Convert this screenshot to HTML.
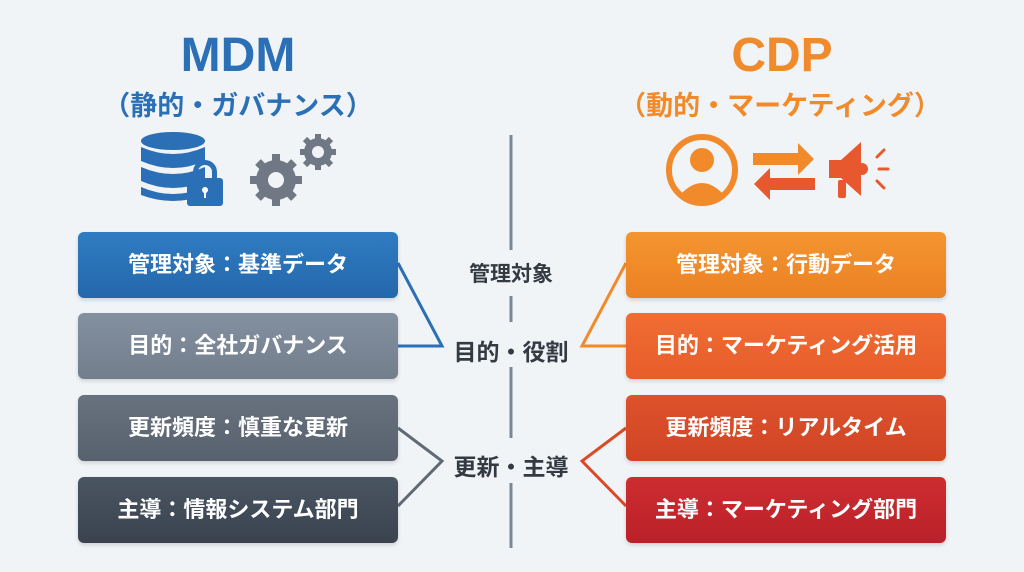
<!DOCTYPE html>
<html><head><meta charset="utf-8"><style>
body{margin:0;width:1024px;height:572px;background:#f1f4f7;font-family:"Liberation Sans","Noto Sans CJK JP",sans-serif;position:relative;overflow:hidden}
.t{position:absolute;text-align:center;font-weight:bold;white-space:nowrap}
.b{position:absolute;width:320px;height:66px;border-radius:6px;color:#fff;font-weight:bold;font-size:22px;line-height:66px;text-align:center;box-shadow:0 2px 4px rgba(0,0,0,.15)}
</style></head><body>
<div class="t" style="left:138px;top:28px;width:200px;font-size:48px;color:#2b70b6">MDM</div>
<div class="t" style="left:98px;top:84px;width:280px;font-size:27px;color:#2b70b6">（静的・ガバナンス）</div>
<div class="t" style="left:682px;top:28px;width:200px;font-size:48px;color:#f08a2a">CDP</div>
<div class="t" style="left:600px;top:84px;width:360px;font-size:27px;color:#f08a2a">（動的・マーケティング）</div>
<svg width="1024" height="572" style="position:absolute;left:0;top:0">
<g fill="#2b70b6">
<ellipse cx="173" cy="141" rx="32" ry="9"/>
<path d="M141 147q32 14 64 0v14q-32 14-64 0z"/>
<path d="M141 167q32 14 64 0v14q-32 14-64 0z"/>
<path d="M141 187q32 14 64 0v8q-32 12-64 0z"/>
<rect x="187" y="178" width="36" height="28" rx="3"/>
<path d="M193 180v-8a12 12 0 0 1 24 0v8h-5v-8a7 7 0 0 0-14 0v8z"/>
</g>
<circle cx="205" cy="190" r="3" fill="#fff"/><rect x="204" y="191" width="2" height="7" fill="#fff"/>
<g fill="#6f7884">
<circle cx="276" cy="180" r="20"/>
<g stroke="#6f7884" stroke-width="8"><line x1="276" y1="154" x2="276" y2="206"/><line x1="250" y1="180" x2="302" y2="180"/><line x1="258" y1="162" x2="294" y2="198"/><line x1="294" y1="162" x2="258" y2="198"/></g>
<circle cx="318" cy="152" r="14"/>
<g stroke="#6f7884" stroke-width="6"><line x1="318" y1="134" x2="318" y2="170"/><line x1="300" y1="152" x2="336" y2="152"/><line x1="305" y1="139" x2="331" y2="165"/><line x1="331" y1="139" x2="305" y2="165"/></g>
</g>
<circle cx="276" cy="180" r="8" fill="#f1f4f7"/><circle cx="318" cy="152" r="6" fill="#f1f4f7"/>
<circle cx="702" cy="170" r="33" fill="none" stroke="#f08a2a" stroke-width="6"/>
<circle cx="702" cy="160" r="12" fill="#f08a2a"/>
<path d="M680 195q22-24 44 0q-22 18-44 0z" fill="#f08a2a"/>
<path d="M753 153h45v-10l16 16-16 16v-10h-45z" fill="#f08a2a"/>
<path d="M815 178h-45v-10l-16 16 16 16v-10h45z" fill="#e8582e"/>
<g fill="#e8582e"><path d="M829 160h12l20-18v54l-20-18h-12z"/><rect x="838" y="180" width="8" height="18" rx="2"/><circle cx="862" cy="169" r="6"/></g>
<g stroke="#e8582e" stroke-width="3" stroke-linecap="round"><line x1="877" y1="157" x2="884" y2="150"/><line x1="879" y1="169" x2="888" y2="169"/><line x1="877" y1="181" x2="884" y2="188"/></g>
<g stroke="#7c8794" stroke-width="3"><line x1="511" y1="135" x2="511" y2="250"/><line x1="511" y1="296" x2="511" y2="322"/><line x1="511" y1="367" x2="511" y2="438"/><line x1="511" y1="483" x2="511" y2="548"/></g>
<g fill="none" stroke-width="3">
<polyline points="398,263 442,346 398,346" stroke="#2b70b6"/>
<polyline points="398,428 442,461 398,506" stroke="#5f6a76"/>
<polyline points="626,263 582,346 626,346" stroke="#f08a2a"/>
<polyline points="626,428 582,461 626,506" stroke="#d84a28"/>
</g>
</svg>
<div class="t" style="left:411px;top:258px;width:200px;font-size:21px;color:#333a42">管理対象</div>
<div class="t" style="left:411px;top:333px;width:200px;font-size:23px;color:#333a42">目的・役割</div>
<div class="t" style="left:411px;top:448px;width:200px;font-size:23px;color:#333a42">更新・主導</div>
<div class="b" style="left:78px;top:232px;background:linear-gradient(#2f7cc2,#2467ab)">管理対象：基準データ</div>
<div class="b" style="left:78px;top:313px;background:linear-gradient(#8390a0,#737e8c)">目的：全社ガバナンス</div>
<div class="b" style="left:78px;top:395px;background:linear-gradient(#67727e,#58626e)">更新頻度：慎重な更新</div>
<div class="b" style="left:78px;top:477px;background:linear-gradient(#4a5562,#3a434f)">主導：情報システム部門</div>
<div class="b" style="left:626px;top:232px;background:linear-gradient(#f39530,#ec8124)">管理対象：行動データ</div>
<div class="b" style="left:626px;top:313px;background:linear-gradient(#f06d33,#e75d2b)">目的：マーケティング活用</div>
<div class="b" style="left:626px;top:395px;background:linear-gradient(#dd522b,#d04426)">更新頻度：リアルタイム</div>
<div class="b" style="left:626px;top:477px;background:linear-gradient(#cc2d30,#bb2029)">主導：マーケティング部門</div>
</body></html>
